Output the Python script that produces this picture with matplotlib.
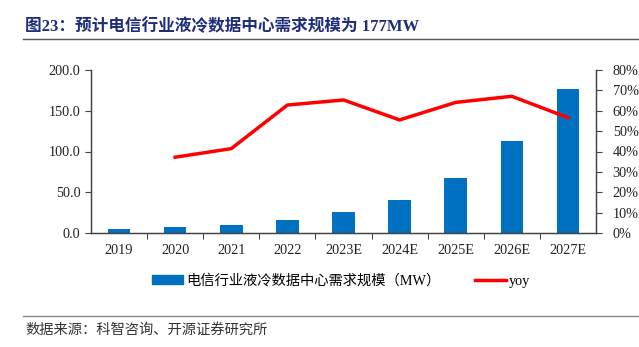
import matplotlib.pyplot as plt
from matplotlib.patches import Patch
from matplotlib.lines import Line2D

# data
years = ["2019", "2020", "2021", "2022", "2023E", "2024E", "2025E", "2026E", "2027E"]
demand_mw = [5.0, 6.9, 9.8, 16.0, 26.3, 41.0, 67.4, 112.7, 177.0]
yoy_years = ["2020", "2021", "2022", "2023E", "2024E", "2025E", "2026E", "2027E"]
yoy_pct = [37.2, 41.4, 62.8, 65.3, 55.5, 64.1, 67.1, 56.6]

serif = ["Liberation Serif", "Noto Sans CJK SC"]
cjk = ["Noto Sans CJK SC", "DejaVu Sans"]

W, H = 639, 347
fig = plt.figure(figsize=(W / 100, H / 100), dpi=100)
ax = fig.add_axes([91 / W, 1 - 233 / H, (596 - 91) / W, 163 / H])
ax2 = ax.twinx()

x = list(range(len(years)))
ax.bar(x, demand_mw, width=0.4, color="#0070C0", zorder=2)
xi = [years.index(y) for y in yoy_years]
ax2.plot(xi, yoy_pct, color="#FF0000", lw=2.5, zorder=3)

ax.set_xlim(-0.5, len(years) - 0.5)
ax.set_ylim(0, 200)
ax.set_yticks([0, 50, 100, 150, 200])
ax.set_yticklabels([f"{v:.1f}" for v in [0, 50, 100, 150, 200]], family=serif, fontsize=10.3, color="#222222")
ax2.set_ylim(0, 80)
ax2.set_yticks(range(0, 81, 10))
ax2.set_yticklabels([f"{v}%" for v in range(0, 81, 10)], family=serif, fontsize=10.3, color="#222222")

# category ticks between bars
ax.set_xticks([i + 0.5 for i in x[:-1]])
ax.set_xticklabels([])
ax.set_xticks(x, minor=True)
ax.set_xticklabels(years, minor=True, family=serif, fontsize=10.3, color="#222222")
ax.tick_params(axis="x", which="minor", length=0, pad=8)
ax.tick_params(axis="x", which="major", length=4, color="#444444")
ax.tick_params(axis="y", length=4, color="#444444")
ax2.tick_params(axis="y", length=4, color="#444444", pad=8)

for a in (ax, ax2):
    a.spines["top"].set_visible(False)
    for s in ("left", "right", "bottom"):
        a.spines[s].set_color("#444444")
        a.spines[s].set_linewidth(0.9)

# title, rules and source
fig.text(25 / W, 1 - 27 / H, "图23：预计电信行业液冷数据中心需求规模为 177MW",
         family=serif, fontsize=12, weight="bold", color="#1F2D7A", va="center")
fig.add_artist(Line2D([23 / W, 1.0], [1 - 39 / H] * 2, color="#555555", lw=1))
fig.add_artist(Line2D([23 / W, 1.0], [1 - 316 / H] * 2, color="#888888", lw=1))
fig.text(25 / W, 1 - 330 / H, "数据来源：科智咨询、开源证券研究所",
         family=cjk, fontsize=10.3, color="#333333", va="center")

handles = [Patch(color="#0070C0"), Line2D([], [], color="#FF0000", lw=2.5)]
fig.legend(handles, ["电信行业液冷数据中心需求规模（MW）", "yoy"],
           loc="center", bbox_to_anchor=(341 / W, 1 - 281 / H), ncol=2,
           frameon=False, prop={"family": serif, "size": 10.3},
           handlelength=2.2, handleheight=0.6, handletextpad=0.2, columnspacing=2.4)

fig.savefig("out.png", dpi=100)
